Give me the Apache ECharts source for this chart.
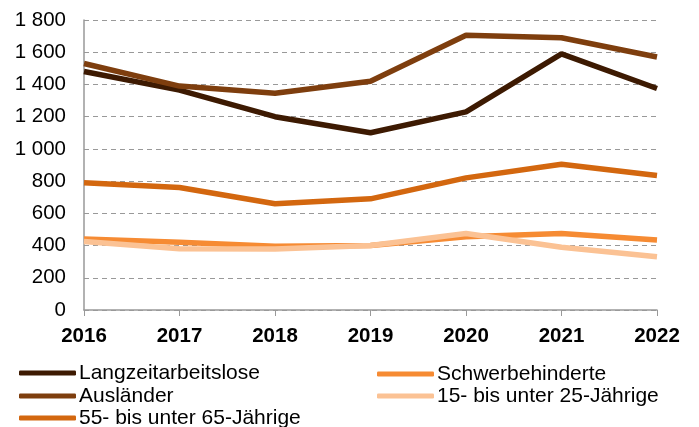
<!DOCTYPE html>
<html>
<head>
<meta charset="utf-8">
<script src="https://cdn.jsdelivr.net/npm/echarts@6/dist/echarts.min.js"></script>
<style>
  html, body { margin: 0; padding: 0; background: #fff; }
  #chart { width: 699px; height: 427px; }
</style>
</head>
<body>
<div id="chart"></div>
<script>
// Daten
const years = ['2016', '2017', '2018', '2019', '2020', '2021', '2022'];
const seriesNames = ['Langzeitarbeitslose', 'Ausländer', '55- bis unter 65-Jährige', 'Schwerbehinderte', '15- bis unter 25-Jährige'];
const langzeit = [1480, 1365, 1200, 1100, 1230, 1590, 1375];
const auslaender = [1530, 1390, 1345, 1420, 1705, 1690, 1570];
const aeltere = [790, 760, 660, 690, 820, 905, 835];
const schwerbehindert = [440, 420, 395, 400, 455, 475, 435];
const juengere = [425, 380, 378, 400, 475, 390, 330];

const colors = ['#3d1a02', '#7e3e0e', '#d3670f', '#f68b33', '#fbc294'];
const allData = [langzeit, auslaender, aeltere, schwerbehindert, juengere];

const chart = echarts.init(document.getElementById('chart'));

const font = 'Liberation Sans, Arial, sans-serif';

// Legende: zwei Spalten, je ein Eintrag pro Zeile
const legendPos = [[19, 362], [19, 385], [19, 407], [377, 363], [377, 385]];
const legends = seriesNames.map((name, i) => ({
    left: legendPos[i][0], top: legendPos[i][1], padding: 0,
    itemWidth: 57, itemHeight: 5, icon: 'roundRect',
    textStyle: { fontFamily: font, fontSize: 21, lineHeight: 22, color: '#000', padding: [0, 0, 0, -2] },
    data: [name]
}));

chart.setOption({
    animation: false,
    grid: { left: 84, right: 42, top: 20, bottom: 117 },
    legend: legends,
    xAxis: {
        type: 'category',
        data: years,
        boundaryGap: false,
        axisLine: { lineStyle: { color: '#999', width: 1.5 } },
        axisTick: { show: true, length: 6, lineStyle: { color: '#999' } },
        axisLabel: { fontFamily: font, fontSize: 20.5, fontWeight: 'bold', color: '#000', margin: 16 }
    },
    yAxis: {
        type: 'value',
        min: 0, max: 1800, interval: 200,
        axisLine: { show: true, lineStyle: { color: '#999', width: 1.5 } },
        axisTick: { show: false },
        axisLabel: {
            fontFamily: font, fontSize: 20.5, color: '#000', margin: 18,
            formatter: v => String(v).replace(/\B(?=(\d{3})+(?!\d))/g, ' ')
        },
        splitLine: { lineStyle: { color: '#999', type: [5, 4], width: 1 } }
    },
    series: seriesNames.map((name, i) => ({
        name: name,
        type: 'line',
        data: allData[i],
        symbol: 'none',
        lineStyle: { width: 5.5, color: colors[i] },
        itemStyle: { color: colors[i] }
    }))
});

window.addEventListener('resize', function() {
    chart.resize();
});
</script>
</body>
</html>
